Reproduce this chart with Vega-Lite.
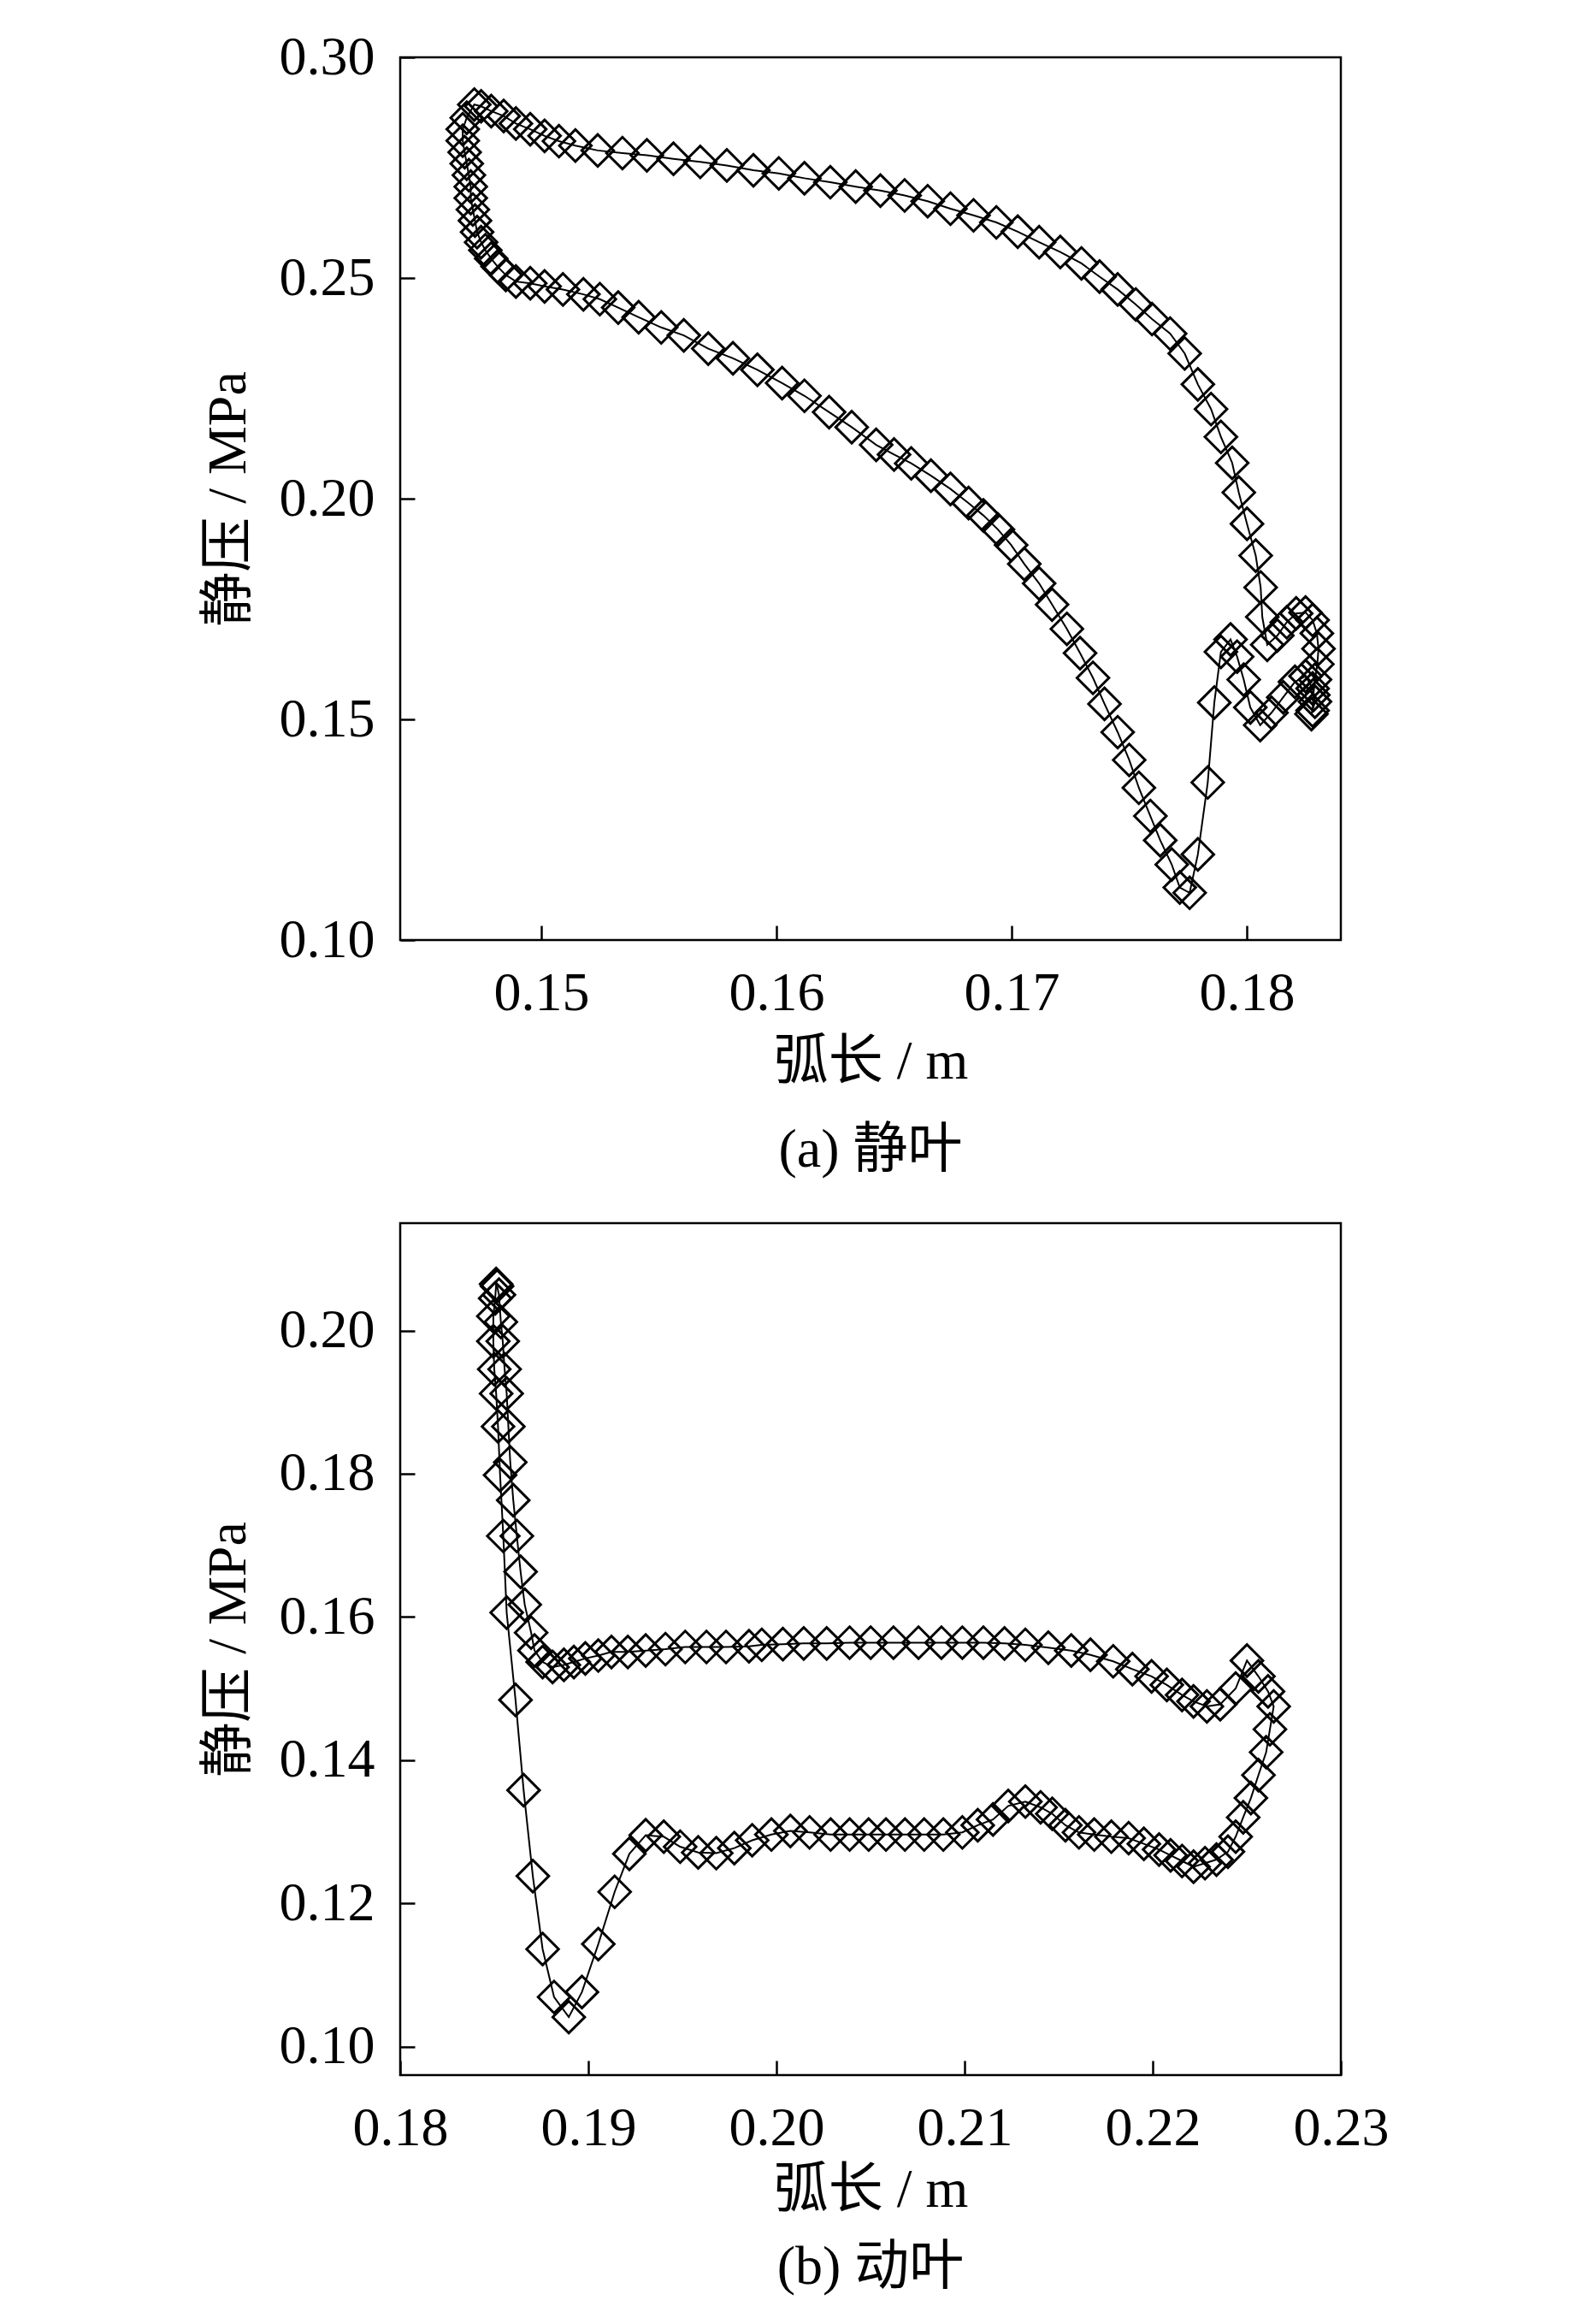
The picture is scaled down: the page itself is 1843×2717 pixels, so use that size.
{
  "$schema": "https://vega.github.io/schema/vega-lite/v6.json",
  "background": "white",
  "padding": {"left": 233, "top": 33, "right": 10, "bottom": 10},
  "config": {
    "font": "Liberation Serif, Noto Sans CJK SC",
    "view": {"stroke": "black", "strokeWidth": 2.5},
    "axis": {
      "domain": false,
      "grid": false,
      "ticks": true,
      "tickSize": -17,
      "tickWidth": 2.5,
      "tickColor": "black",
      "labelFont": "Liberation Serif",
      "labelFontSize": 64,
      "labelColor": "black",
      "labelPadding": 47,
      "labelFlush": false,
      "labelOverlap": false,
      "titleFont": "Liberation Serif, Noto Sans CJK SC",
      "titleFontSize": 64,
      "titleFontWeight": "normal",
      "titleColor": "black"
    },
    "axisY": {"titlePadding": 27},
    "title": {
      "font": "Liberation Serif, Noto Sans CJK SC",
      "fontSize": 64,
      "fontWeight": "normal",
      "color": "black",
      "orient": "bottom"
    }
  },
  "datasets": {
    "stator": [
      {"i":1,"s":0.18280,"p":0.1520},{"i":2,"s":0.18283,"p":0.1555},{"i":3,"s":0.18290,"p":0.1590},{"i":4,"s":0.18300,"p":0.1625},{"i":5,"s":0.18305,"p":0.1660},{"i":6,"s":0.18298,"p":0.1695},{"i":7,"s":0.18280,"p":0.1725},{"i":8,"s":0.18250,"p":0.1742},{"i":9,"s":0.18210,"p":0.1740},{"i":10,"s":0.18170,"p":0.1720},
      {"i":11,"s":0.18130,"p":0.1690},{"i":12,"s":0.18087,"p":0.1669},{"i":13,"s":0.18066,"p":0.1732},{"i":14,"s":0.18059,"p":0.1799},{"i":15,"s":0.18038,"p":0.1871},{"i":16,"s":0.18001,"p":0.1943},{"i":17,"s":0.17966,"p":0.2014},{"i":18,"s":0.17938,"p":0.2081},{"i":19,"s":0.17890,"p":0.2140},{"i":20,"s":0.17848,"p":0.2203},
      {"i":21,"s":0.17792,"p":0.2259},{"i":22,"s":0.17736,"p":0.2329},{"i":23,"s":0.17674,"p":0.2374},{"i":24,"s":0.17597,"p":0.2407},{"i":25,"s":0.17528,"p":0.2440},{"i":26,"s":0.17451,"p":0.2474},{"i":27,"s":0.17374,"p":0.2503},{"i":28,"s":0.17297,"p":0.2533},{"i":29,"s":0.17207,"p":0.2559},{"i":30,"s":0.17117,"p":0.2581},
      {"i":31,"s":0.17026,"p":0.2605},{"i":32,"s":0.16935,"p":0.2626},{"i":33,"s":0.16838,"p":0.2642},{"i":34,"s":0.16740,"p":0.2657},{"i":35,"s":0.16643,"p":0.2674},{"i":36,"s":0.16545,"p":0.2687},{"i":37,"s":0.16442,"p":0.2698},{"i":38,"s":0.16337,"p":0.2707},{"i":39,"s":0.16229,"p":0.2717},{"i":40,"s":0.16119,"p":0.2726},
      {"i":41,"s":0.16010,"p":0.2737},{"i":42,"s":0.15902,"p":0.2744},{"i":43,"s":0.15789,"p":0.2755},{"i":44,"s":0.15676,"p":0.2763},{"i":45,"s":0.15562,"p":0.2770},{"i":46,"s":0.15449,"p":0.2778},{"i":47,"s":0.15345,"p":0.2783},{"i":48,"s":0.15240,"p":0.2789},{"i":49,"s":0.15145,"p":0.2800},{"i":50,"s":0.15075,"p":0.2810},
      {"i":51,"s":0.15014,"p":0.2822},{"i":52,"s":0.14953,"p":0.2837},{"i":53,"s":0.14892,"p":0.2850},{"i":54,"s":0.14840,"p":0.2867},{"i":55,"s":0.14787,"p":0.2878},{"i":56,"s":0.14744,"p":0.2889},{"i":57,"s":0.14715,"p":0.2893},{"i":58,"s":0.14683,"p":0.2863},{"i":59,"s":0.14666,"p":0.2837},{"i":60,"s":0.14666,"p":0.2811},
      {"i":61,"s":0.14674,"p":0.2785},{"i":62,"s":0.14683,"p":0.2759},{"i":63,"s":0.14692,"p":0.2733},{"i":64,"s":0.14700,"p":0.2707},{"i":65,"s":0.14700,"p":0.2681},{"i":66,"s":0.14709,"p":0.2655},{"i":67,"s":0.14718,"p":0.2630},{"i":68,"s":0.14727,"p":0.2604},{"i":69,"s":0.14744,"p":0.2581},{"i":70,"s":0.14762,"p":0.2563},
      {"i":71,"s":0.14787,"p":0.2544},{"i":72,"s":0.14814,"p":0.2526},{"i":73,"s":0.14849,"p":0.2507},{"i":74,"s":0.14892,"p":0.2492},{"i":75,"s":0.14953,"p":0.2488},{"i":76,"s":0.15014,"p":0.2481},{"i":77,"s":0.15092,"p":0.2474},{"i":78,"s":0.15179,"p":0.2463},{"i":79,"s":0.15249,"p":0.2452},{"i":80,"s":0.15327,"p":0.2433},
      {"i":81,"s":0.15414,"p":0.2411},{"i":82,"s":0.15510,"p":0.2388},{"i":83,"s":0.15606,"p":0.2370},{"i":84,"s":0.15710,"p":0.2340},{"i":85,"s":0.15815,"p":0.2318},{"i":86,"s":0.15919,"p":0.2292},{"i":87,"s":0.16024,"p":0.2262},{"i":88,"s":0.16119,"p":0.2233},{"i":89,"s":0.16224,"p":0.2196},{"i":90,"s":0.16320,"p":0.2162},
      {"i":91,"s":0.16424,"p":0.2122},{"i":92,"s":0.16500,"p":0.2100},{"i":93,"s":0.16573,"p":0.2080},{"i":94,"s":0.16657,"p":0.2052},{"i":95,"s":0.16740,"p":0.2022},{"i":96,"s":0.16817,"p":0.1990},{"i":97,"s":0.16880,"p":0.1962},{"i":98,"s":0.16942,"p":0.1930},{"i":99,"s":0.16998,"p":0.1895},{"i":100,"s":0.17054,"p":0.1852},
      {"i":101,"s":0.17117,"p":0.1808},{"i":102,"s":0.17172,"p":0.1760},{"i":103,"s":0.17235,"p":0.1705},{"i":104,"s":0.17291,"p":0.1650},{"i":105,"s":0.17346,"p":0.1594},{"i":106,"s":0.17395,"p":0.1535},{"i":107,"s":0.17451,"p":0.1471},{"i":108,"s":0.17500,"p":0.1408},{"i":109,"s":0.17541,"p":0.1345},{"i":110,"s":0.17590,"p":0.1281},
      {"i":111,"s":0.17632,"p":0.1226},{"i":112,"s":0.17681,"p":0.1171},{"i":113,"s":0.17715,"p":0.1119},{"i":114,"s":0.17757,"p":0.1107},{"i":115,"s":0.17792,"p":0.1194},{"i":116,"s":0.17834,"p":0.1357},{"i":117,"s":0.17862,"p":0.1538},{"i":118,"s":0.17890,"p":0.1653},{"i":119,"s":0.17931,"p":0.1681},{"i":120,"s":0.17959,"p":0.1642},
      {"i":121,"s":0.17987,"p":0.1590},{"i":122,"s":0.18015,"p":0.1527},{"i":123,"s":0.18057,"p":0.1487},{"i":124,"s":0.18105,"p":0.1515},{"i":125,"s":0.18155,"p":0.1550},{"i":126,"s":0.18205,"p":0.1585},{"i":127,"s":0.18250,"p":0.1598},{"i":128,"s":0.18280,"p":0.1570},{"i":129,"s":0.18290,"p":0.1540},{"i":130,"s":0.18275,"p":0.1512}
    ],
    "rotor": [
      {"i":1,"s":0.18510,"p":0.2065},{"i":2,"s":0.18505,"p":0.2045},{"i":3,"s":0.18495,"p":0.2020},{"i":4,"s":0.18495,"p":0.1985},{"i":5,"s":0.18500,"p":0.1946},{"i":6,"s":0.18510,"p":0.1912},{"i":7,"s":0.18520,"p":0.1866},{"i":8,"s":0.18531,"p":0.1798},{"i":9,"s":0.18548,"p":0.1713},{"i":10,"s":0.18566,"p":0.1606},
      {"i":11,"s":0.18613,"p":0.1484},{"i":12,"s":0.18656,"p":0.1358},{"i":13,"s":0.18705,"p":0.1238},{"i":14,"s":0.18757,"p":0.1136},{"i":15,"s":0.18818,"p":0.1069},{"i":16,"s":0.18896,"p":0.1041},{"i":17,"s":0.18966,"p":0.1076},{"i":18,"s":0.19053,"p":0.1143},{"i":19,"s":0.19140,"p":0.1216},{"i":20,"s":0.19218,"p":0.1269},
      {"i":21,"s":0.19305,"p":0.1295},{"i":22,"s":0.19401,"p":0.1293},{"i":23,"s":0.19488,"p":0.1279},{"i":24,"s":0.19584,"p":0.1271},{"i":25,"s":0.19680,"p":0.1270},{"i":26,"s":0.19776,"p":0.1277},{"i":27,"s":0.19871,"p":0.1288},{"i":28,"s":0.19973,"p":0.1296},{"i":29,"s":0.20074,"p":0.1301},{"i":30,"s":0.20176,"p":0.1299},
      {"i":31,"s":0.20288,"p":0.1296},{"i":32,"s":0.20389,"p":0.1296},{"i":33,"s":0.20490,"p":0.1296},{"i":34,"s":0.20582,"p":0.1296},{"i":35,"s":0.20683,"p":0.1296},{"i":36,"s":0.20785,"p":0.1296},{"i":37,"s":0.20887,"p":0.1296},{"i":38,"s":0.20988,"p":0.1299},{"i":39,"s":0.21070,"p":0.1309},{"i":40,"s":0.21151,"p":0.1317},
      {"i":41,"s":0.21232,"p":0.1336},{"i":42,"s":0.21323,"p":0.1342},{"i":43,"s":0.21404,"p":0.1334},{"i":44,"s":0.21466,"p":0.1325},{"i":45,"s":0.21536,"p":0.1309},{"i":46,"s":0.21608,"p":0.1299},{"i":47,"s":0.21689,"p":0.1296},{"i":48,"s":0.21780,"p":0.1293},{"i":49,"s":0.21872,"p":0.1291},{"i":50,"s":0.21953,"p":0.1283},
      {"i":51,"s":0.22034,"p":0.1275},{"i":52,"s":0.22095,"p":0.1267},{"i":53,"s":0.22156,"p":0.1259},{"i":54,"s":0.22217,"p":0.1251},{"i":55,"s":0.22278,"p":0.1256},{"i":56,"s":0.22339,"p":0.1261},{"i":57,"s":0.22400,"p":0.1272},{"i":58,"s":0.22441,"p":0.1293},{"i":59,"s":0.22481,"p":0.1320},{"i":60,"s":0.22522,"p":0.1347},
      {"i":61,"s":0.22562,"p":0.1379},{"i":62,"s":0.22603,"p":0.1411},{"i":63,"s":0.22623,"p":0.1443},{"i":64,"s":0.22643,"p":0.1475},{"i":65,"s":0.22613,"p":0.1496},{"i":66,"s":0.22562,"p":0.1517},{"i":67,"s":0.22501,"p":0.1539},{"i":68,"s":0.22441,"p":0.1500},{"i":69,"s":0.22359,"p":0.1478},{"i":70,"s":0.22288,"p":0.1475},
      {"i":71,"s":0.22217,"p":0.1482},{"i":72,"s":0.22156,"p":0.1491},{"i":73,"s":0.22075,"p":0.1505},{"i":74,"s":0.21994,"p":0.1517},{"i":75,"s":0.21892,"p":0.1527},{"i":76,"s":0.21790,"p":0.1538},{"i":77,"s":0.21669,"p":0.1547},{"i":78,"s":0.21567,"p":0.1553},{"i":79,"s":0.21445,"p":0.1557},{"i":80,"s":0.21323,"p":0.1561},
      {"i":81,"s":0.21212,"p":0.1563},{"i":82,"s":0.21100,"p":0.1564},{"i":83,"s":0.20988,"p":0.1564},{"i":84,"s":0.20877,"p":0.1564},{"i":85,"s":0.20755,"p":0.1564},{"i":86,"s":0.20622,"p":0.1564},{"i":87,"s":0.20501,"p":0.1564},{"i":88,"s":0.20389,"p":0.1564},{"i":89,"s":0.20267,"p":0.1563},{"i":90,"s":0.20145,"p":0.1563},
      {"i":91,"s":0.20034,"p":0.1562},{"i":92,"s":0.19922,"p":0.1561},{"i":93,"s":0.19854,"p":0.1559},{"i":94,"s":0.19732,"p":0.1558},{"i":95,"s":0.19628,"p":0.1558},{"i":96,"s":0.19515,"p":0.1558},{"i":97,"s":0.19410,"p":0.1555},{"i":98,"s":0.19305,"p":0.1553},{"i":99,"s":0.19210,"p":0.1551},{"i":100,"s":0.19123,"p":0.1551},
      {"i":101,"s":0.19053,"p":0.1546},{"i":102,"s":0.18984,"p":0.1542},{"i":103,"s":0.18923,"p":0.1537},{"i":104,"s":0.18870,"p":0.1533},{"i":105,"s":0.18810,"p":0.1530},{"i":106,"s":0.18757,"p":0.1537},{"i":107,"s":0.18714,"p":0.1553},{"i":108,"s":0.18696,"p":0.1578},{"i":109,"s":0.18662,"p":0.1617},{"i":110,"s":0.18640,"p":0.1663},
      {"i":111,"s":0.18620,"p":0.1713},{"i":112,"s":0.18601,"p":0.1763},{"i":113,"s":0.18585,"p":0.1816},{"i":114,"s":0.18575,"p":0.1866},{"i":115,"s":0.18566,"p":0.1912},{"i":116,"s":0.18555,"p":0.1946},{"i":117,"s":0.18545,"p":0.1985},{"i":118,"s":0.18535,"p":0.2012},{"i":119,"s":0.18525,"p":0.2050},{"i":120,"s":0.18515,"p":0.2062}
    ]
  },
  "vconcat": [
    {
      "width": 1100,
      "height": 1032,
      "data": {"name": "stator"},
      "title": {"text": "(a) 静叶", "offset": 40},
      "encoding": {
        "x": {"field": "s", "type": "quantitative", "scale": {"domain": [0.144, 0.184], "nice": false, "zero": false},
              "axis": {"title": "弧长 / m", "titlePadding": 16, "values": [0.15, 0.16, 0.17, 0.18], "format": ".2f"}},
        "y": {"field": "p", "type": "quantitative", "scale": {"domain": [0.10, 0.30], "nice": false, "zero": false},
              "axis": {"title": "静压 / MPa", "values": [0.10, 0.15, 0.20, 0.25, 0.30], "format": ".2f"}}
      },
      "layer": [
        {"mark": {"type": "line", "color": "black", "strokeWidth": 2}, "encoding": {"order": {"field": "i", "type": "quantitative"}}},
        {"mark": {"type": "point", "shape": "diamond", "filled": false, "stroke": "black", "strokeWidth": 3, "size": 1400, "opacity": 1}}
      ]
    },
    {
      "width": 1100,
      "height": 996,
      "data": {"name": "rotor"},
      "title": {"text": "(b) 动叶", "offset": 27},
      "encoding": {
        "x": {"field": "s", "type": "quantitative", "scale": {"domain": [0.18, 0.23], "nice": false, "zero": false},
              "axis": {"title": "弧长 / m", "titlePadding": 8, "values": [0.18, 0.19, 0.20, 0.21, 0.22, 0.23], "format": ".2f"}},
        "y": {"field": "p", "type": "quantitative", "scale": {"domain": [0.096, 0.215], "nice": false, "zero": false},
              "axis": {"title": "静压 / MPa", "values": [0.10, 0.12, 0.14, 0.16, 0.18, 0.20], "format": ".2f"}}
      },
      "layer": [
        {"mark": {"type": "line", "color": "black", "strokeWidth": 2}, "encoding": {"order": {"field": "i", "type": "quantitative"}}},
        {"mark": {"type": "point", "shape": "diamond", "filled": false, "stroke": "black", "strokeWidth": 3, "size": 1400, "opacity": 1}}
      ]
    }
  ],
  "spacing": 49
}
